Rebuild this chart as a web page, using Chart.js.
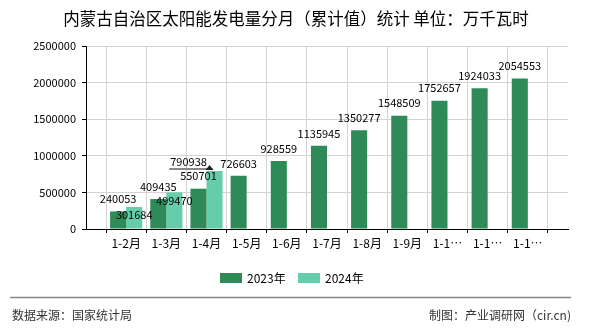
<!DOCTYPE html>
<html>
<head>
<meta charset="utf-8">
<style>
    body { margin: 0; background: #fff; }
    #wrap { width: 590px; height: 330px; position: relative; }
</style>
</head>
<body>
<div id="wrap"><canvas id="solarChart"></canvas></div>
<script src="https://cdn.jsdelivr.net/npm/chart.js"></script>
<script>
    const months = ['1-2月', '1-3月', '1-4月', '1-5月', '1-6月', '1-7月', '1-8月', '1-9月', '1-10月', '1-11月', '1-12月'];
    const values2023 = [240053, 409435, 550701, 726603, 928559, 1135945, 1350277, 1548509, 1752657, 1924033, 2054553];
    const values2024 = [301684, 499470, 790938];
    const seriesNames = ['2023年', '2024年'];
    const yTicks = [0, 500000, 1000000, 1500000, 2000000, 2500000];

    const titleText = '内蒙古自治区太阳能发电量分月（累计值）统计 单位：万千瓦时';
    const sourceText = '数据来源：国家统计局';
    const makerText = '制图：产业调研网（cir.cn)';

    const FONT = '"Noto Sans CJK SC", "DejaVu Sans", sans-serif';
    const darkGreen = '#2e8b57';
    const lightGreen = '#66cdaa';

    // empty slot on each side, like the original axis
    const labels = [''].concat(months, ['']);
    const pad = (arr) => {
        const out = [null];
        months.forEach((m, i) => out.push(arr[i] === undefined ? null : arr[i]));
        out.push(null);
        return out;
    };

    // title, legend, footer and the value labels
    const decorations = {
        id: 'decorations',
        afterDraw(chart) {
            const ctx = chart.ctx;
            ctx.save();

            ctx.fillStyle = '#000';
            ctx.font = '16.5px ' + FONT;
            ctx.textAlign = 'center';
            ctx.textBaseline = 'middle';
            ctx.fillText(titleText, 296, 19);

            // legend
            ctx.font = '12px ' + FONT;
            ctx.textAlign = 'left';
            let lx = 220;
            chart.data.datasets.forEach(ds => {
                ctx.fillStyle = ds.backgroundColor;
                ctx.fillRect(lx, 273, 22, 10);
                ctx.fillStyle = '#000';
                ctx.fillText(ds.label, lx + 27, 278);
                lx += 78;
            });

            // footer
            ctx.strokeStyle = '#888';
            ctx.lineWidth = 1.5;
            ctx.beginPath();
            ctx.moveTo(10, 297.5);
            ctx.lineTo(571, 297.5);
            ctx.stroke();
            ctx.fillStyle = '#333';
            ctx.font = '12px ' + FONT;
            ctx.textAlign = 'left';
            ctx.fillText(sourceText, 12, 315);
            ctx.textAlign = 'right';
            ctx.fillText(makerText, 571, 315);

            // value labels
            ctx.font = '11px ' + FONT;
            ctx.textAlign = 'center';
            ctx.fillStyle = '#000';
            const placed = [];
            const boxOf = (x, y, w) => ({l: x - w / 2, r: x + w / 2, t: y - 6, b: y + 6});
            const hits = (a, b) => a.l < b.r && a.r > b.l && a.t < b.b && a.b > b.t;

            const meta0 = chart.getDatasetMeta(0);
            meta0.data.forEach((bar, i) => {
                const v = chart.data.datasets[0].data[i];
                if (v == null) return;
                const txt = String(v);
                const y = bar.y - 12.5;
                ctx.fillText(txt, bar.x, y);
                placed.push(boxOf(bar.x, y, ctx.measureText(txt).width));
            });

            const meta1 = chart.getDatasetMeta(1);
            meta1.data.forEach((bar, i) => {
                const v = chart.data.datasets[1].data[i];
                if (v == null) return;
                const txt = String(v);
                const w = ctx.measureText(txt).width;
                let x = bar.x, y = bar.y + 8;
                if (placed.some(p => hits(p, boxOf(x, y, w)))) {
                    // moved up and left, with a guide line back to the bar
                    x = bar.x - 26;
                    y = bar.y - 9;
                    ctx.strokeStyle = '#888';
                    ctx.lineWidth = 2;
                    ctx.beginPath();
                    ctx.moveTo(x - w / 2 - 1, bar.y - 2);
                    ctx.lineTo(bar.x - 2, bar.y - 2);
                    ctx.stroke();
                    ctx.fillStyle = '#222';
                    ctx.beginPath();
                    ctx.moveTo(bar.x - 5, bar.y - 6);
                    ctx.lineTo(bar.x - 1, bar.y - 1);
                    ctx.lineTo(bar.x - 9, bar.y - 1);
                    ctx.closePath();
                    ctx.fill();
                    ctx.fillStyle = '#000';
                }
                ctx.fillText(txt, x, y);
                placed.push(boxOf(x, y, w));
            });

            ctx.restore();
        }
    };

    new Chart(document.getElementById('solarChart'), {
        type: 'bar',
        data: {
            labels: labels,
            datasets: [
                {label: seriesNames[0], data: pad(values2023), backgroundColor: darkGreen},
                {label: seriesNames[1], data: pad(values2024), backgroundColor: lightGreen}
            ]
        },
        options: {
            responsive: true,
            maintainAspectRatio: false,
            animation: false,
            layout: {padding: {top: 46, right: 22, left: 0, bottom: 0}},
            datasets: {bar: {categoryPercentage: 0.8, barPercentage: 1}},
            plugins: {
                legend: {display: false},
                title: {display: false},
                tooltip: {enabled: false}
            },
            scales: {
                x: {
                    offset: false,
                    afterFit: (axis) => { axis.height = 101; },
                    grid: {color: '#d3d3d3', tickColor: '#000', tickLength: 4, lineWidth: 1},
                    border: {color: '#000'},
                    ticks: {
                        padding: 3,
                        maxRotation: 0,
                        autoSkip: false,
                        color: '#000',
                        font: {family: FONT, size: 12},
                        callback: function (val) {
                            const s = this.getLabelForValue(val);
                            return s.length > 4 ? s.slice(0, 3) + '…' : s;
                        }
                    }
                },
                y: {
                    min: yTicks[0],
                    max: yTicks[yTicks.length - 1],
                    afterFit: (axis) => { axis.width = 86; },
                    afterBuildTicks: (axis) => { axis.ticks = yTicks.map(v => ({value: v})); },
                    grid: {color: '#d3d3d3', tickColor: '#000', tickLength: 4},
                    border: {color: '#000'},
                    ticks: {
                        padding: 6,
                        color: '#000',
                        font: {family: FONT, size: 11},
                        callback: (val) => String(val)
                    }
                }
            }
        },
        plugins: [decorations]
    });
</script>
</body>
</html>
